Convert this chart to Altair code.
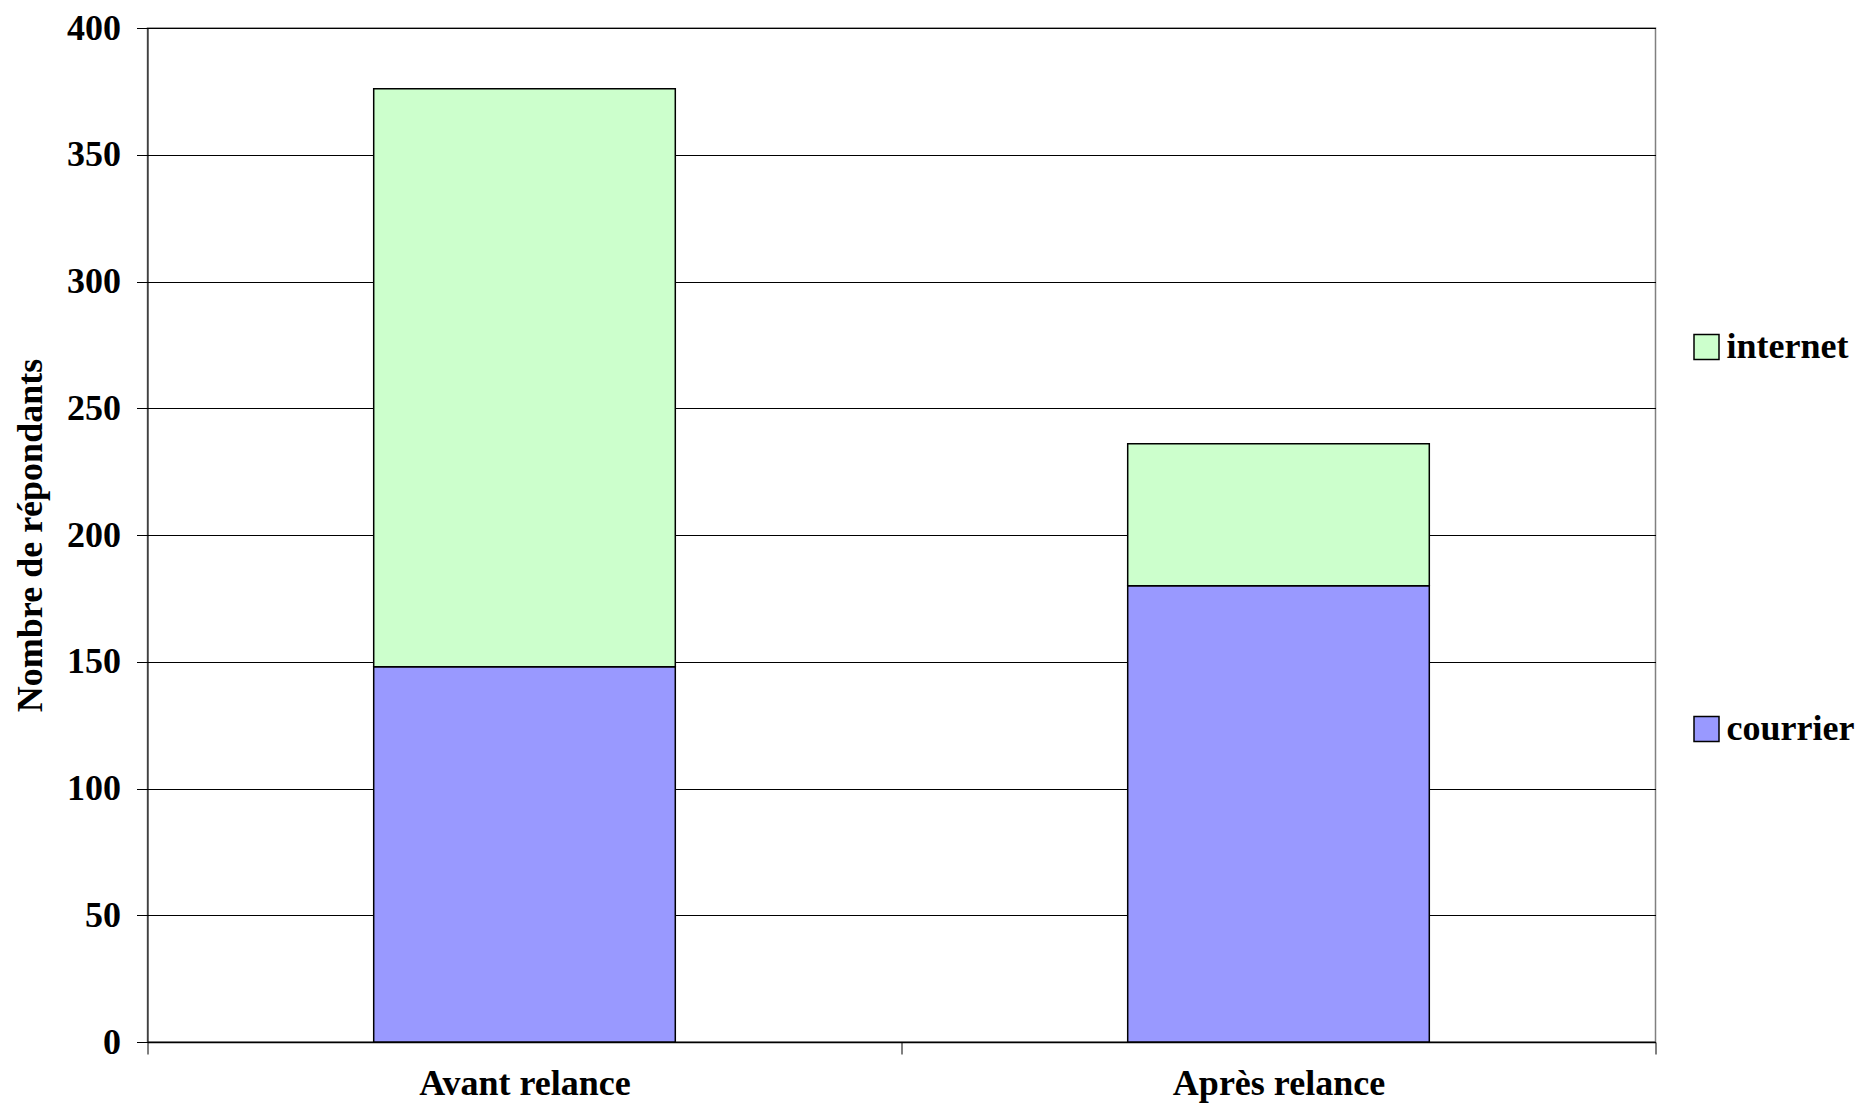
import altair as alt
import pandas as pd

periods = ["Avant relance", "Après relance"]
series = ["courrier", "internet"]
courrier = [148, 180]
internet = [228, 56]
colors = ["#CCFFCC", "#9999FF"]  # internet, courrier

rows = []
for i, p in enumerate(periods):
    rows.append({"periode": p, "mode": "courrier", "n": courrier[i], "ordre": 0})
    rows.append({"periode": p, "mode": "internet", "n": internet[i], "ordre": 1})
df = pd.DataFrame(rows)

FONT = "Liberation Serif"
W, H = 1508, 1014

chart = alt.Chart(df).mark_bar(stroke="black", strokeWidth=1.5,
                               width=alt.RelativeBandSize(0.4)).encode(
    x=alt.X("periode:N", sort=periods, title=None,
            scale=alt.Scale(paddingInner=0, paddingOuter=0),
            axis=alt.Axis(labelAngle=0, labelFont=FONT, labelFontWeight="bold",
                          labelFontSize=36, labelColor="black", labelPadding=12,
                          labelLimit=0, labelBaseline="top",
                          tickBand="extent", tickSize=12, tickColor="black",
                          domainColor="black", domainWidth=1.5, grid=False)),
    y=alt.Y("n:Q", stack="zero", title="Nombre de répondants",
            scale=alt.Scale(domain=[0, 400], nice=False),
            axis=alt.Axis(values=list(range(0, 401, 50)), labelFont=FONT,
                          labelFontWeight="bold", labelFontSize=36, labelColor="black",
                          labelPadding=16, tickSize=11, tickColor="black",
                          domainColor="black", gridColor="black", gridWidth=1,
                          gridOpacity=1, titleFont=FONT, titleFontWeight="bold",
                          titleFontSize=36, titleColor="black", titleAngle=-90,
                          titleX=-117, titleY=H / 2, titleAlign="center",
                          titleBaseline="middle")),
    color=alt.Color("mode:N", title=None,
                    scale=alt.Scale(domain=["internet", "courrier"], range=colors),
                    legend=alt.Legend(orient="none", legendX=1541, legendY=301,
                                      symbolType="square", symbolSize=625,
                                      symbolStrokeColor="black", symbolStrokeWidth=1.5,
                                      symbolOpacity=1, labelLimit=0,
                                      labelFont=FONT, labelFontWeight="bold",
                                      labelFontSize=36, labelColor="black",
                                      labelOffset=2, rowPadding=346)),
    order=alt.Order("ordre:Q"),
).properties(
    width=W, height=H,
    autosize=alt.AutoSizeParams(type="none"),
    padding={"left": 139.5, "top": 20, "right": 201, "bottom": 61},
).configure_view(stroke="#808080", strokeWidth=1.5)

chart.save("out.html", embed_options={"renderer": "svg", "actions": False})
